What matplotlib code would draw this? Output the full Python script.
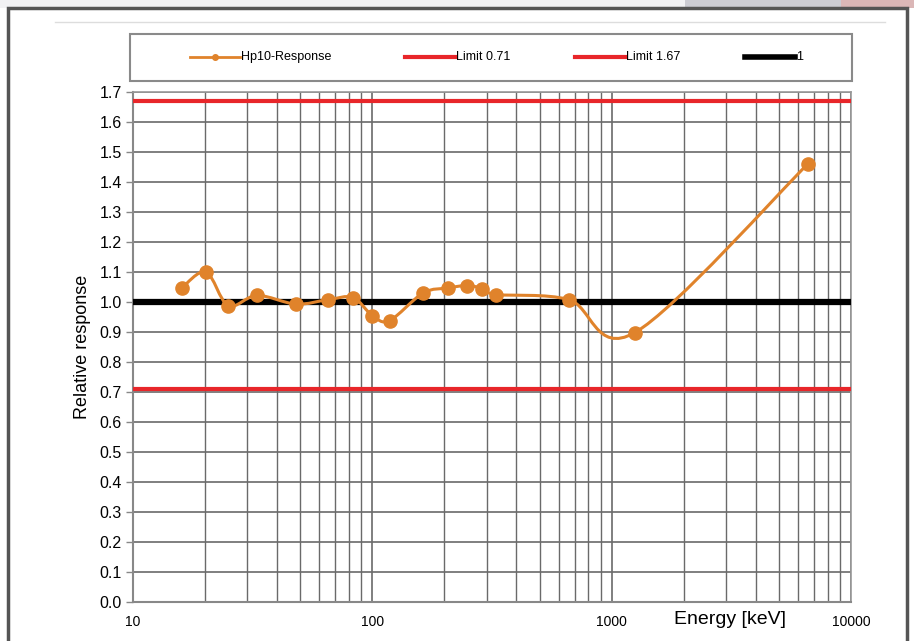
import numpy as np
import matplotlib
matplotlib.use("Agg")
import matplotlib.pyplot as plt
from matplotlib.path import Path
from matplotlib.patches import PathPatch, Rectangle
from matplotlib.lines import Line2D
from matplotlib.ticker import FixedLocator, NullFormatter

# Energy response data
energy_kev = [16, 20.2, 25, 33, 48, 65.5, 83, 100, 118, 163, 208, 249, 288, 330, 662, 1250, 6600]
response = [1.047, 1.10, 0.988, 1.022, 0.993, 1.008, 1.015, 0.955, 0.938,
            1.03, 1.047, 1.055, 1.045, 1.025, 1.008, 0.898, 1.46]
limit_low = 0.71
limit_high = 1.67
unity = 1.0
y_ticks = [round(0.1 * i, 1) for i in range(18)]
x_ticks = [10, 100, 1000, 10000]
legend_labels = ["Hp10-Response", "Limit 0.71", "Limit 1.67", "1"]

orange = "#E0832B"
red = "#E8262A"
grid_col = "#6a6a6a"

plt.rcParams['font.family'] = ['Liberation Sans', 'DejaVu Sans']

W, H = 914, 641
fig = plt.figure(figsize=(W / 100, H / 100), dpi=100)
fig.patch.set_facecolor("white")


def fx(px):
    return px / W


def fy(py):
    return 1 - py / H


# top strip (photo background) and outer frame
strip = fig.add_axes([0, fy(8), 1, 8 / H])
cols = np.zeros((1, 300, 3))
for i, t in enumerate(np.linspace(0, 1, 300)):
    if t < 0.75:
        cols[0, i] = [0.95, 0.95, 0.96]
    elif t < 0.92:
        cols[0, i] = [0.80, 0.80, 0.83]
    else:
        cols[0, i] = [0.86, 0.72, 0.72]
strip.imshow(cols, aspect="auto", extent=[0, 1, 0, 1])
strip.axis("off")

fig.add_artist(Rectangle((fx(8), -0.05), fx(907 - 8), fy(8) + 0.05,
                         transform=fig.transFigure, fill=False,
                         edgecolor="#555555", linewidth=2.5))
fig.add_artist(Line2D([fx(55), fx(885)], [fy(22), fy(22)],
                      transform=fig.transFigure, color="#dddddd", linewidth=1))

ax = fig.add_axes([fx(133), fy(602), fx(851 - 133), (602 - 92) / H])
ax.set_xscale("log")
ax.set_xlim(10, 10000)
ax.set_ylim(0, 1.7)

# grid
ax.xaxis.set_major_locator(FixedLocator(x_ticks))
minor = [m * d for d in [10, 100, 1000] for m in range(2, 10)]
ax.xaxis.set_minor_locator(FixedLocator(minor))
ax.xaxis.set_minor_formatter(NullFormatter())
ax.set_yticks(y_ticks)
ax.set_yticklabels(["%.1f" % v for v in y_ticks], fontsize=11.5)
ax.set_xticklabels([str(v) for v in x_ticks], fontsize=10)
ax.grid(True, which="major", axis="both", color=grid_col, linewidth=1.2)
ax.grid(True, which="minor", axis="x", color=grid_col, linewidth=1.0)
ax.set_axisbelow(True)
ax.tick_params(axis="y", length=5, width=1, color="#888888", pad=3)
ax.tick_params(axis="x", which="both", length=0, pad=9)
for s in ["left", "bottom"]:
    ax.spines[s].set_color("#888888")
    ax.spines[s].set_linewidth(1.5)
for s in ["top", "right"]:
    ax.spines[s].set_color("#999999")
    ax.spines[s].set_linewidth(1.2)

# horizontal reference lines
ax.axhline(limit_low, color=red, linewidth=3, zorder=3)
ax.axhline(limit_high, color=red, linewidth=3, zorder=3)
ax.axhline(unity, color="black", linewidth=4.5, zorder=3)

# smoothed line (Excel style Catmull-Rom Bezier in log-x space)
lx = np.log10(energy_kev)
yy = np.array(response)
n = len(lx)
verts = [(energy_kev[0], response[0])]
codes = [Path.MOVETO]
for i in range(n - 1):
    p0 = np.array([lx[max(i - 1, 0)], yy[max(i - 1, 0)]])
    p1 = np.array([lx[i], yy[i]])
    p2 = np.array([lx[i + 1], yy[i + 1]])
    p3 = np.array([lx[min(i + 2, n - 1)], yy[min(i + 2, n - 1)]])
    c1 = p1 + (p2 - p0) / 6
    c2 = p2 - (p3 - p1) / 6
    for c in (c1, c2, p2):
        verts.append((10 ** c[0], c[1]))
    codes += [Path.CURVE4] * 3
ax.add_patch(PathPatch(Path(verts, codes), fill=False, edgecolor=orange,
                       linewidth=2.2, zorder=4))
ax.plot(energy_kev, response, "o", color=orange, markersize=9.5, zorder=5)

ax.set_ylabel("Relative response", fontsize=13, labelpad=6)
fig.text(fx(730), fy(620), "Energy [keV]", fontsize=14,
         ha="center", va="center")

# legend box drawn by hand to match the spacing of the original
fig.add_artist(Rectangle((fx(130), fy(81)), fx(852 - 130), 47 / H,
                         transform=fig.transFigure, fill=False,
                         edgecolor="#8a8a8a", linewidth=1.5))
leg_start = [190, 405, 575, 745]
leg_style = [dict(color=orange, linewidth=2, marker="o", markersize=4, markevery=[1]),
             dict(color=red, linewidth=3),
             dict(color=red, linewidth=3),
             dict(color="black", linewidth=4)]
for x0, lab, st in zip(leg_start, legend_labels, leg_style):
    fig.add_artist(Line2D([fx(x0), fx(x0 + 25), fx(x0 + 50)], [fy(57)] * 3,
                          transform=fig.transFigure, **st))
    fig.text(fx(x0 + 51), fy(57), lab, fontsize=9, ha="left", va="center")

fig.savefig("out.png", dpi=100)
